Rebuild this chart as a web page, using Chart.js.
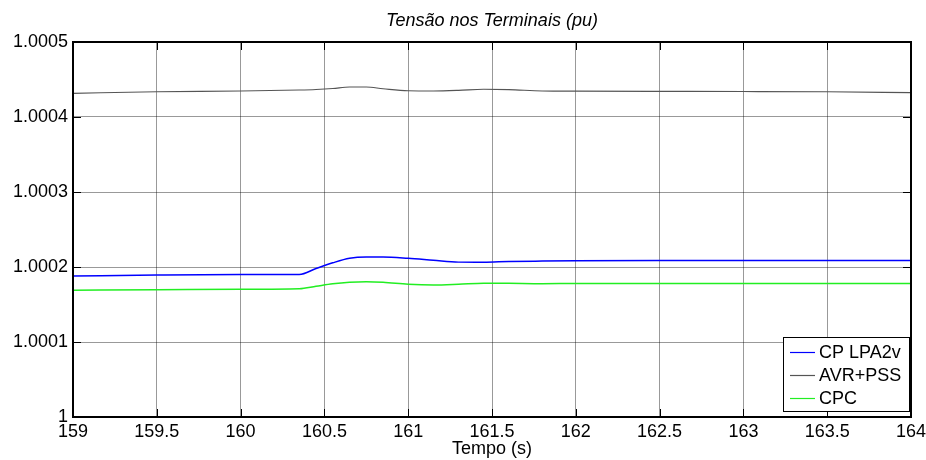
<!DOCTYPE html>
<html>
<head>
<meta charset="utf-8">
<script src="https://cdn.jsdelivr.net/npm/chart.js@4.4.0/dist/chart.umd.min.js"></script>
<style>
  html, body { margin: 0; padding: 0; background: #fff; }
</style>
</head>
<body>
<canvas id="chart" width="926" height="460"></canvas>
<script>
const titleText = "Tensão nos Terminais (pu)";
const xTitle = "Tempo (s)";
const seriesNames = ["CP LPA2v", "AVR+PSS", "CPC"];
const seriesColors = ["#0000ff", "#555555", "#22ee22"];

// sample times (s)
const time = [159, 159.5, 160, 160.35, 160.45, 160.55, 160.65, 160.75, 160.85, 161,
  161.15, 161.3, 161.45, 161.6, 161.8, 162, 162.5, 163, 163.5, 164];

// terminal voltage (pu)
const cpLpa2v = [1.000188, 1.0001893, 1.00019, 1.00019, 1.000198, 1.0002056, 1.0002116, 1.0002133, 1.0002133, 1.0002116,
  1.000209, 1.0002065, 1.0002063, 1.0002073, 1.0002079, 1.0002083, 1.0002086, 1.0002087, 1.0002087, 1.0002087];
const avrPss = [1.0004316, 1.0004337, 1.0004347, 1.000436, 1.0004367, 1.000438, 1.00044, 1.00044, 1.0004377, 1.000435,
  1.0004347, 1.0004355, 1.000437, 1.0004365, 1.0004347, 1.0004344, 1.0004342, 1.000434, 1.0004337, 1.0004325];
const cpc = [1.000169, 1.0001696, 1.0001703, 1.000171, 1.0001743, 1.0001776, 1.0001796, 1.0001803, 1.0001796, 1.000177,
  1.000176, 1.000177, 1.0001785, 1.0001783, 1.0001778, 1.000178, 1.000178, 1.000178, 1.000178, 1.000178];

const font = "'Liberation Sans', Arial, sans-serif";

const toPoints = (vals) => vals.map((v, i) => ({ x: time[i], y: v }));

// box, inward ticks, title and legend inside the plot
const framePlugin = {
  id: "frame",
  afterDatasetsDraw(chart) {
    const { ctx, chartArea: a, scales } = chart;
    ctx.save();
    ctx.strokeStyle = "#000";
    ctx.lineWidth = 1;
    const seg = (x1, y1, x2, y2) => { ctx.beginPath(); ctx.moveTo(x1, y1); ctx.lineTo(x2, y2); ctx.stroke(); };
    scales.x.ticks.forEach(t => {
      const px = Math.round(scales.x.getPixelForValue(t.value)) + 0.5;
      seg(px, a.bottom, px, a.bottom - 8);
      seg(px, a.top, px, a.top + 8);
    });
    scales.y.ticks.forEach(t => {
      const py = Math.round(scales.y.getPixelForValue(t.value)) + 0.5;
      seg(a.left, py, a.left + 8, py);
      seg(a.right, py, a.right - 8, py);
    });
    ctx.lineWidth = 2;
    ctx.strokeRect(a.left, a.top, a.right - a.left, a.bottom - a.top);

    // title
    ctx.fillStyle = "#000";
    ctx.font = "italic 18px " + font;
    ctx.textAlign = "center";
    ctx.textBaseline = "middle";
    ctx.fillText(titleText, (a.left + a.right) / 2, 21);

    // legend
    const lx = 783.5, ly = 337.5, lw = 126, lh = 74;
    ctx.fillStyle = "#fff";
    ctx.fillRect(lx, ly, lw, lh);
    ctx.lineWidth = 1;
    ctx.strokeRect(lx, ly, lw, lh);
    ctx.font = "18px " + font;
    ctx.textAlign = "left";
    chart.data.datasets.forEach((ds, i) => {
      const cy = 352 + i * 23;
      ctx.strokeStyle = ds.borderColor;
      ctx.lineWidth = 1.2;
      seg(790, cy + 0.5, 815, cy + 0.5);
      ctx.fillStyle = "#000";
      ctx.fillText(ds.label, 819, cy + 1);
    });
    ctx.restore();
  }
};

new Chart(document.getElementById("chart"), {
  type: "line",
  data: {
    datasets: [
      { label: seriesNames[0], data: toPoints(cpLpa2v), borderColor: seriesColors[0], borderWidth: 1.5 },
      { label: seriesNames[1], data: toPoints(avrPss), borderColor: seriesColors[1], borderWidth: 1.2 },
      { label: seriesNames[2], data: toPoints(cpc), borderColor: seriesColors[2], borderWidth: 1.5 },
    ],
  },
  options: {
    responsive: false,
    animation: false,
    layout: { padding: { left: 0, right: 15, top: 42, bottom: 0 } },
    elements: {
      point: { radius: 0 },
      line: { cubicInterpolationMode: "monotone", fill: false },
    },
    plugins: {
      legend: { display: false },
      title: { display: false },
      tooltip: { enabled: false },
    },
    scales: {
      x: {
        type: "linear",
        min: 159,
        max: 164,
        ticks: {
          stepSize: 0.5,
          autoSkip: false,
          maxRotation: 0,
          padding: 4,
          color: "#000",
          font: { family: font, size: 18 },
          callback: (v) => String(v),
        },
        grid: { color: "rgba(0,0,0,0.4)", lineWidth: 1, drawTicks: false },
        border: { display: false },
        title: {
          display: true,
          text: xTitle,
          color: "#000",
          font: { family: font, size: 18 },
          padding: { top: 0, bottom: 0 },
        },
        afterFit: (scale) => { scale.height = 43; scale.paddingLeft = 0; scale.paddingRight = 0; },
      },
      y: {
        type: "linear",
        min: 1,
        max: 1.0005,
        ticks: {
          stepSize: 0.0001,
          padding: 5,
          color: "#000",
          font: { family: font, size: 18 },
          callback: (v) => { const s = v.toFixed(4); return s === "1.0000" ? "1" : s; },
        },
        grid: { color: "rgba(0,0,0,0.4)", lineWidth: 1, drawTicks: false },
        border: { display: false },
        afterFit: (scale) => { scale.width = 73; scale.paddingTop = 0; scale.paddingBottom = 0; },
      },
    },
  },
  plugins: [framePlugin],
});
</script>
</body>
</html>
